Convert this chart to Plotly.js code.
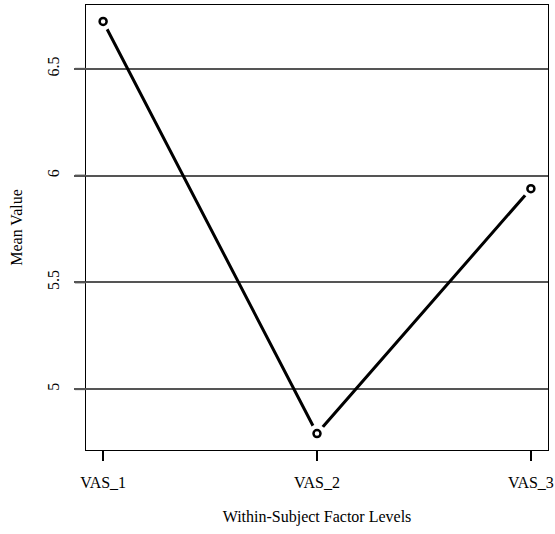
<!DOCTYPE html>
<html>
<head>
<meta charset="utf-8">
<script src="https://cdn.plot.ly/plotly-3.0.1.min.js"></script>
<style>html,body{margin:0;padding:0;background:#fff;}#chart{width:555px;height:534px;}</style>
</head>
<body>
<div id="chart"></div>
<script>
const levels = ['VAS_1', 'VAS_2', 'VAS_3'];
const meanValues = [6.722, 4.792, 5.939];
const yTickVals = [5, 5.5, 6, 6.5];
const yTickText = ['5', '5.5', '6', '6.5'];
const xTitle = 'Within-Subject Factor Levels';
const yTitle = 'Mean Value';
const yRange = [4.715, 6.799];

const font = {family: 'Liberation Serif, Times New Roman, serif', size: 16, color: '#000'};

const traces = [
  {x: levels, y: meanValues, type: 'scatter', mode: 'lines',
   line: {color: '#000', width: 3}, hoverinfo: 'skip', showlegend: false},
  {x: levels, y: meanValues, type: 'scatter', mode: 'markers', yaxis: 'y2',
   marker: {symbol: 'circle', color: '#fff', size: 18, line: {width: 0}}, hoverinfo: 'skip', showlegend: false},
  {x: levels, y: meanValues, type: 'scatter', mode: 'markers', yaxis: 'y2',
   marker: {symbol: 'circle-open', color: '#000', size: 7, line: {width: 2.5, color: '#000'}}, showlegend: false}
];

// short outward tick stubs on the y axis, continuing the grid lines
const tickStubs = yTickVals.map(v => ({
  type: 'line', xref: 'paper', yref: 'y',
  x0: -0.024, x1: 0, y0: v, y1: v,
  line: {color: '#555555', width: 2}, layer: 'above'
}));

const layout = {
  width: 555, height: 534,
  margin: {l: 86, r: 7, t: 5, b: 84},
  paper_bgcolor: '#fff', plot_bgcolor: '#fff',
  font: font,
  shapes: tickStubs,
  xaxis: {
    type: 'category', categoryorder: 'array', categoryarray: levels,
    range: [-0.08, 2.08],
    showgrid: false, zeroline: false,
    showline: true, mirror: true, linecolor: '#000', linewidth: 1.4,
    ticks: 'outside', ticklen: 10, tickwidth: 1.4, tickcolor: '#000',
    ticklabelstandoff: 7,
    tickfont: font,
    title: {text: xTitle, font: font, standoff: 21}
  },
  yaxis: {
    range: yRange,
    tickmode: 'array', tickvals: yTickVals, ticktext: yTickText,
    tickangle: -90,
    showgrid: true, gridcolor: '#555555', gridwidth: 2, zeroline: false,
    showline: true, mirror: true, linecolor: '#000', linewidth: 1.4,
    ticks: 'outside', ticklen: 11, tickwidth: 2, tickcolor: '#555555',
    ticklabelstandoff: 8,
    tickfont: font,
    title: {text: yTitle, font: font, standoff: 18}
  },
  yaxis2: {
    range: yRange, overlaying: 'y', visible: false, showgrid: false, zeroline: false
  }
};

Plotly.newPlot('chart', traces, layout, {displayModeBar: false, staticPlot: true});
</script>
</body>
</html>
